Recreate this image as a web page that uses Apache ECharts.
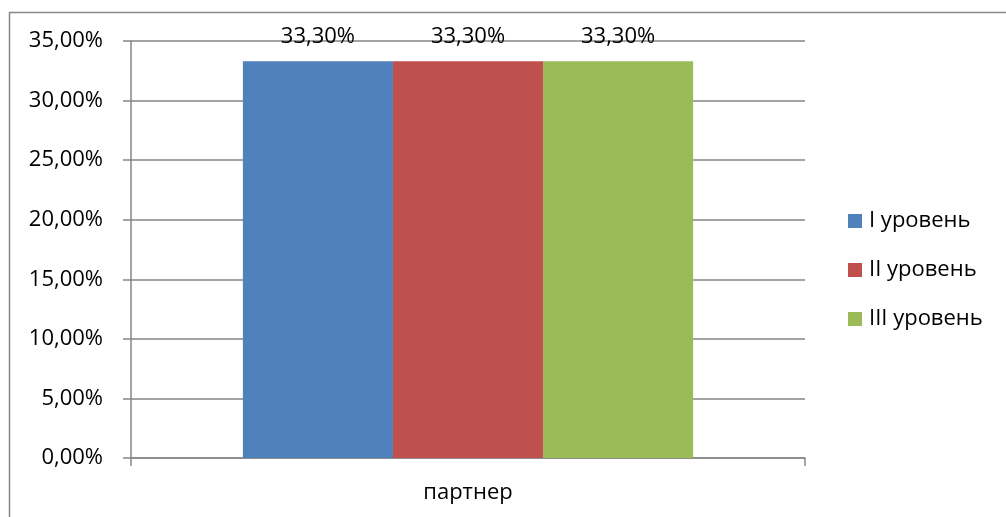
<!DOCTYPE html>
<html>
<head>
<meta charset="utf-8">
<script src="https://cdn.jsdelivr.net/npm/echarts@6/dist/echarts.min.js"></script>
<style>
  html, body { margin: 0; padding: 0; background: #fff; }
  #chart { width: 1006px; height: 517px; }
</style>
</head>
<body>
<div id="chart"></div>
<script>
// Categories, series and tick settings
const categories = ['партнер'];
const seriesNames = ['I уровень', 'II уровень', 'III уровень'];
const level1 = [33.3];
const level2 = [33.3];
const level3 = [33.3];
const yMin = 0;
const yMax = 35;
const yStep = 5;

const colors = ['#4F81BD', '#C0504D', '#9BBB59'];
const FONT = 'Open Sans';
const FS = 22;
const pct = v => Number(v).toFixed(2).replace('.', ',') + '%';

const chart = echarts.init(document.getElementById('chart'));

const values = [level1, level2, level3];
const series = seriesNames.map((name, i) => ({
  name,
  type: 'bar',
  data: values[i],
  barGap: '0%',
  barCategoryGap: '33.2%',
  itemStyle: { color: colors[i] },
  label: {
    show: true,
    position: 'top',
    distance: 14,
    formatter: p => pct(p.value),
    fontFamily: FONT,
    fontSize: FS,
    color: '#000'
  }
}));

chart.setOption({
  animation: false,
  backgroundColor: '#fff',
  graphic: [{
    type: 'rect',
    shape: { x: 9.5, y: 12.5, width: 1010, height: 520 },
    style: { fill: 'none', stroke: '#868686', lineWidth: 1.5 },
    silent: true
  }],
  grid: { left: 131, right: 201, top: 41, bottom: 59 },
  legend: {
    orient: 'vertical',
    left: 843,
    top: 205,
    itemWidth: 14,
    itemHeight: 14,
    itemGap: 27,
    icon: 'rect',
    textStyle: { fontFamily: FONT, fontSize: FS, color: '#000', padding: [0, 0, 0, 2] },
    data: seriesNames
  },
  xAxis: {
    type: 'category',
    data: categories,
    axisLine: { lineStyle: { color: '#868686', width: 1.5 } },
    axisTick: { show: true, length: 8, lineStyle: { color: '#868686', width: 1.5 } },
    axisLabel: { fontFamily: FONT, fontSize: FS, color: '#000', margin: 24 }
  },
  yAxis: {
    type: 'value',
    min: yMin,
    max: yMax,
    interval: yStep,
    axisLine: { show: true, lineStyle: { color: '#868686', width: 1.5 } },
    axisTick: { show: true, length: 8, lineStyle: { color: '#868686', width: 1.5 } },
    splitLine: { lineStyle: { color: '#868686', width: 1.5 } },
    axisLabel: { fontFamily: FONT, fontSize: FS, color: '#000', margin: 28, formatter: v => pct(v) }
  },
  series
});
</script>
</body>
</html>
